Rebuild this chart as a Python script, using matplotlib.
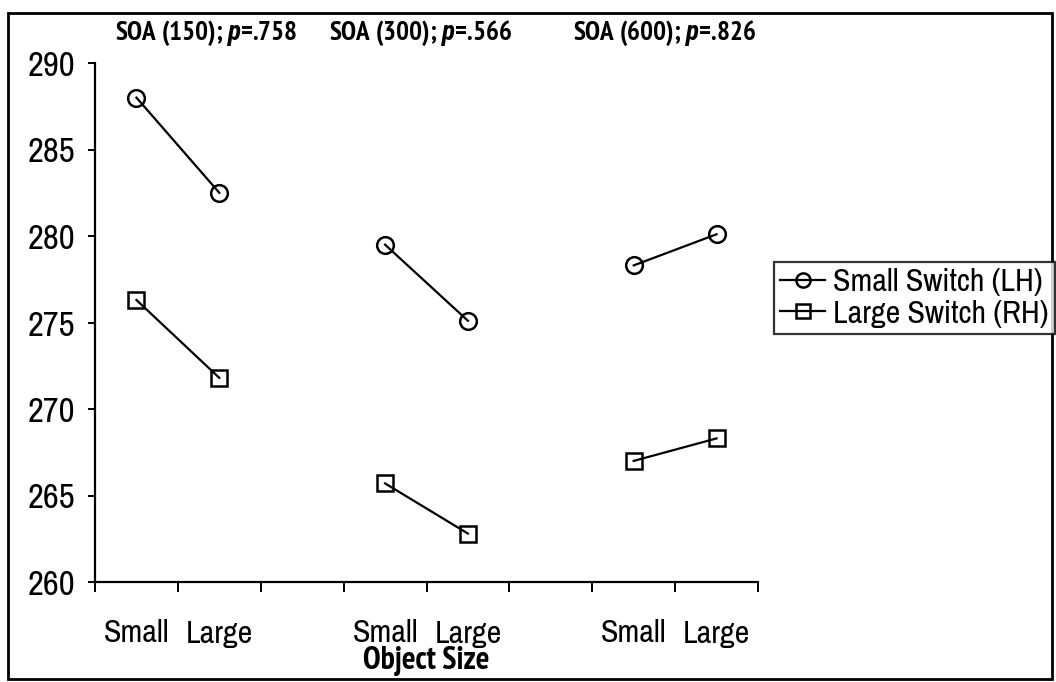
import matplotlib
matplotlib.use("Agg")
import matplotlib.pyplot as plt
from matplotlib.patches import Rectangle
from matplotlib.ticker import FixedLocator, FixedFormatter
from matplotlib import font_manager as fm
import numpy as np

# ---- data ----
soa_titles = ["SOA (150); $\\mathit{p}$=.758",
              "SOA (300); $\\mathit{p}$=.566",
              "SOA (600); $\\mathit{p}$=.826"]
size_labels = ["Small", "Large"]
small_switch = [288.0, 282.5, 279.5, 275.1, 278.3, 280.1]   # LH, circles
large_switch = [276.3, 271.8, 265.7, 262.8, 267.0, 268.3]   # RH, squares
series_names = ["Small Switch (LH)", "Large Switch (RH)"]
group_pos = [0.5, 3.5, 6.5]
y_ticks = [260, 265, 270, 275, 280, 285, 290]

entries = [(f.name, f.weight, f.style) for f in fm.fontManager.ttflist]
available = {e[0] for e in entries}
def has_bold(name, style="normal"):
    return any(e[0] == name and e[2] == style and
               (e[1] if isinstance(e[1], int) else 700 if e[1] == "bold" else 400) >= 700
               for e in entries)

prefs = ["Liberation Sans Narrow", "Arial Narrow", "Archivo Narrow",
         "PT Sans Narrow", "Roboto Condensed", "Fira Sans Condensed",
         "Sofia Sans Condensed", "Fira Sans Extra Condensed"]
fam = next((p for p in prefs if p in available), "Liberation Sans")
fam_b = next((p for p in prefs if has_bold(p)), fam)
fam_bi = next((p for p in prefs if has_bold(p, "italic")), fam_b)

plt.rcParams["font.family"] = [fam, "DejaVu Sans"]
plt.rcParams["mathtext.fontset"] = "custom"
plt.rcParams["mathtext.it"] = f"{fam_bi}:italic:bold"
plt.rcParams["mathtext.rm"] = f"{fam_b}:bold"
plt.rcParams["mathtext.bf"] = f"{fam_b}:bold"

W, H = 1056, 682
fig = plt.figure(figsize=(W / 100, H / 100), dpi=100)
ax = fig.add_axes([95 / W, 1 - 582 / H, (758 - 95) / W, (582 - 63) / H])

line_kw = dict(color="black", lw=1.6, markersize=12, markerfacecolor="none",
               markeredgecolor="black", markeredgewidth=1.8)
handles = []
for gi, g in enumerate(group_pos):
    xs = [g, g + 1]
    h1, = ax.plot(xs, small_switch[2 * gi:2 * gi + 2], marker="o", **line_kw)
    h2, = ax.plot(xs, large_switch[2 * gi:2 * gi + 2], marker="s", **line_kw)
    if gi == 0:
        handles = [h1, h2]

ax.set_xlim(0, 8)
ax.set_ylim(260, 290)
ax.spines["top"].set_visible(False)
ax.spines["right"].set_visible(False)
ax.spines["left"].set_linewidth(1.6)
ax.spines["bottom"].set_linewidth(1.6)

ax.set_yticks(y_ticks)
ax.set_yticklabels([str(v) for v in y_ticks])
ax.tick_params(axis="y", length=5, width=1.4, pad=9, labelsize=25)

ax.xaxis.set_major_locator(FixedLocator(np.arange(0, 9)))
ax.xaxis.set_major_formatter(FixedFormatter([""] * 9))
minor_pos = []
minor_lab = []
for g in group_pos:
    minor_pos += [g, g + 1]
    minor_lab += size_labels
ax.xaxis.set_minor_locator(FixedLocator(minor_pos))
ax.xaxis.set_minor_formatter(FixedFormatter(minor_lab))
ax.tick_params(axis="x", which="major", length=7, width=1.4)
ax.tick_params(axis="x", which="minor", length=0, pad=27, labelsize=23)

ax.set_xlabel("Object Size", fontsize=23, fontweight="bold",
              family=[fam_b, "DejaVu Sans"], labelpad=-1)

title_x = [206, 421, 665]
for tx, t in zip(title_x, soa_titles):
    fig.text(tx / W, 1 - 33 / H, t, ha="center", va="center",
             fontsize=19.5, fontweight="bold", family=[fam_b, "DejaVu Sans"])

leg = fig.legend(handles, series_names, loc="upper left",
                 bbox_to_anchor=(774 / W, 1 - 262 / H),
                 frameon=True, fancybox=False, fontsize=23,
                 handlelength=1.4, handletextpad=0.25, borderpad=0.2,
                 labelspacing=0.1, borderaxespad=0, markerscale=0.85)
leg.get_frame().set_edgecolor("black")
leg.get_frame().set_linewidth(1.6)

fig.patches.append(Rectangle((8 / W, 1 - 679 / H), (1052 - 8) / W, (679 - 13) / H,
                             transform=fig.transFigure, fill=False,
                             edgecolor="black", lw=2.0))

fig.savefig("out.png", dpi=100)
